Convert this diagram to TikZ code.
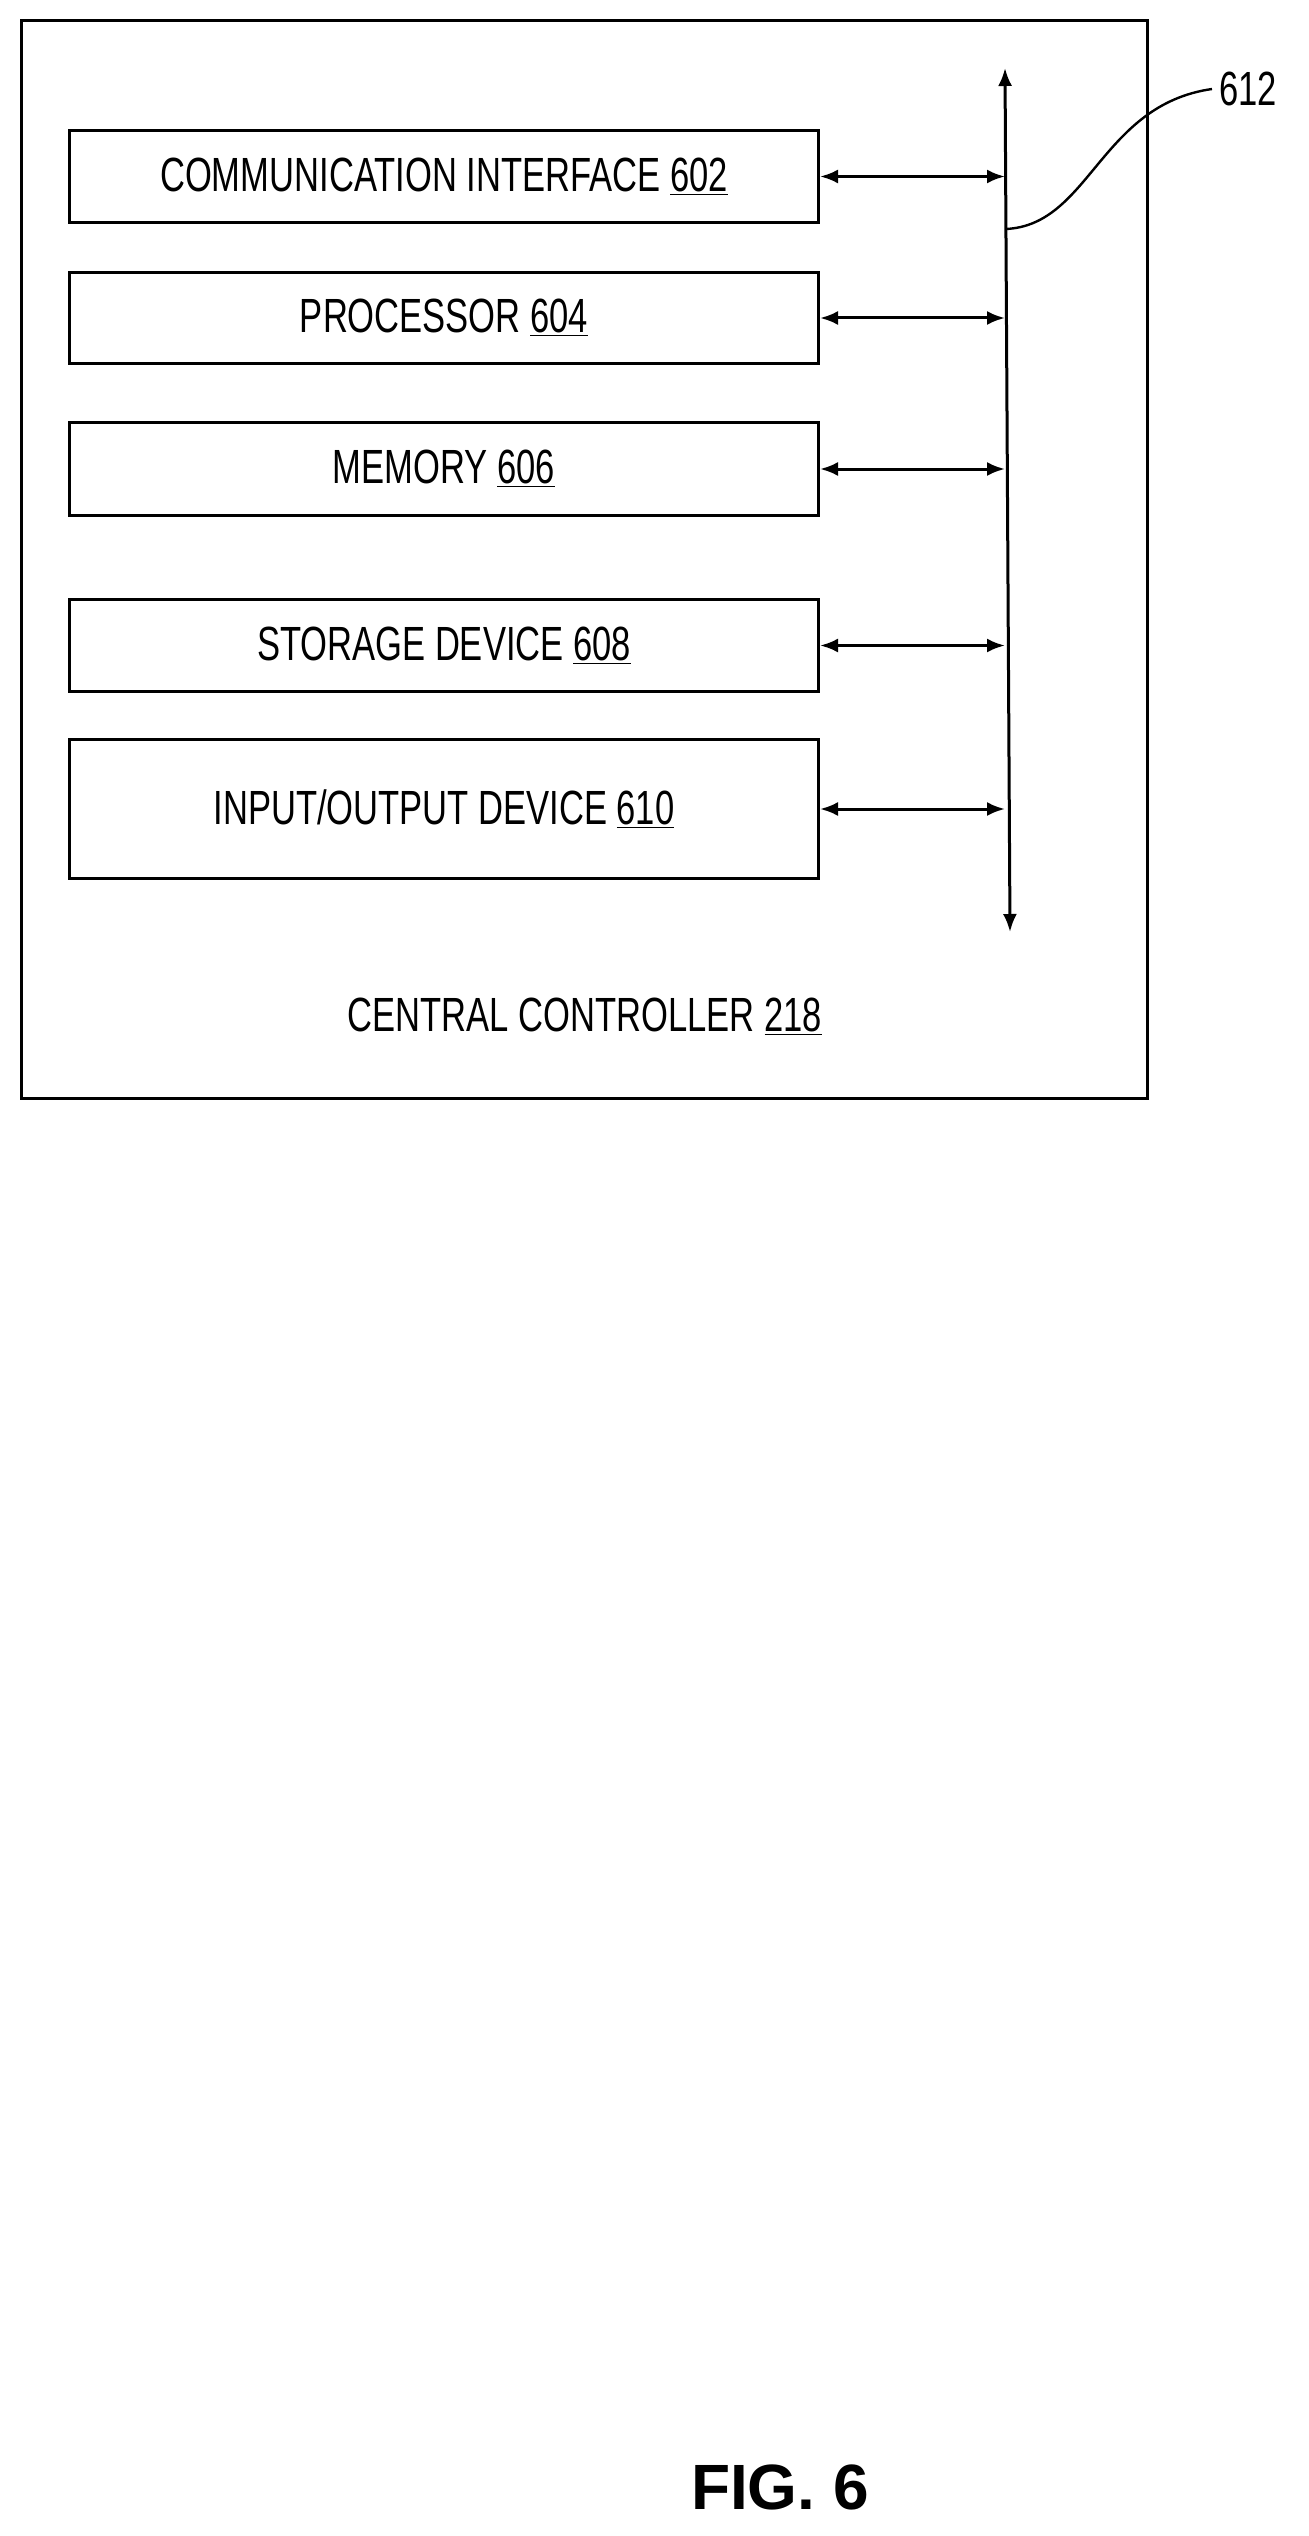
\documentclass[tikz,border=0pt]{standalone}
\usepackage{fontspec}
\setmainfont[FakeStretch=0.72]{Liberation Sans}
\newfontfamily\figfont{Liberation Sans}
\begin{document}
\begin{tikzpicture}[x=0.5pt,y=-0.5pt,
  blk/.style={draw,line width=1.5pt,minimum width=374.5pt,inner sep=0pt,anchor=north west,font=\fontsize{24}{26}\selectfont},
  lnk/.style={line width=1.5pt,{Latex[length=9pt,width=7pt]}-{Latex[length=9pt,width=7pt]}}]
\usetikzlibrary{arrows.meta}
\useasboundingbox (0,0) rectangle (1308,2536);
\draw[line width=1.5pt] (21,21) rectangle (1147,1098);
\node[blk,minimum height=46pt] (b1) at (68,129) {COMMUNICATION INTERFACE \underline{602}};
\node[blk,minimum height=45.5pt] (b2) at (68,271) {PROCESSOR \underline{604}};
\node[blk,minimum height=46.5pt] (b3) at (68,421) {MEMORY \underline{606}};
\node[blk,minimum height=46pt] (b4) at (68,598) {STORAGE DEVICE \underline{608}};
\node[blk,minimum height=69.5pt] (b5) at (68,738) {INPUT/OUTPUT DEVICE \underline{610}};
\coordinate (top) at (1005,68);
\coordinate (bot) at (1010,932);
\draw[lnk] (bot) -- (top);
\foreach \i in {1,...,5}{
  \path (b\i.east) -- ++(300,0) coordinate (t\i);
  \draw[lnk] (b\i.east) -- (b\i.east -| top);
}
\coordinate (tap) at (1006,229);
\node[font=\fontsize{24}{26}\selectfont,anchor=west] (lab) at (1212,89) {612};
\draw[line width=1.2pt] (tap) .. controls (1090,225) and (1100,105) .. (lab.west);
\node[font=\fontsize{24}{26}\selectfont] (cc) at (585,1017) {CENTRAL CONTROLLER \underline{218}};
\node[font=\figfont\bfseries\fontsize{32}{34}\selectfont] (fig) at (780,2487) {FIG. 6};
\end{tikzpicture}
\end{document}
